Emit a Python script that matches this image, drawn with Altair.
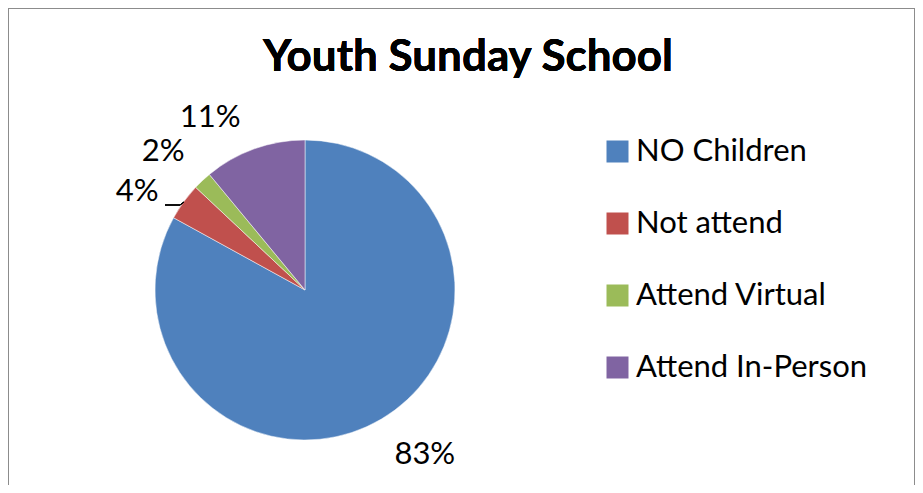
import altair as alt
import pandas as pd

categories = ["NO Children", "Not attend", "Attend Virtual", "Attend In-Person"]
values = [83, 4, 2, 11]
labels = ["83%", "4%", "2%", "11%"]
colors = ["#4F81BD", "#C0504D", "#9BBB59", "#8064A2"]

df = pd.DataFrame({"category": categories, "value": values, "label": labels,
                   "order": list(range(len(categories)))})

FONT = "Lato"
CX, CY, R = 297, 282, 150

base = alt.Chart(df).encode(
    theta=alt.Theta("value:Q", stack=True),
    order=alt.Order("order:Q"),
)

pie = base.mark_arc(outerRadius=R, stroke="white", strokeWidth=0.5).encode(
    x=alt.value(CX), y=alt.value(CY),
    color=alt.Color("category:N", sort=categories,
                    scale=alt.Scale(domain=categories, range=colors),
                    legend=alt.Legend(title=None, orient="none", legendX=594, legendY=128,
                                      symbolType="square", symbolSize=484,
                                      symbolStrokeWidth=0, labelFont=FONT,
                                      labelFontSize=31, labelColor="black",
                                      labelOffset=3, rowPadding=40, padding=0,
                                      labelLimit=400)),
)

offsets = {"NO Children": (18, -7), "Not attend": (-6, 20),
           "Attend Virtual": (-5, 8), "Attend In-Person": (-27, 16)}

text_layers = []
for cat in categories:
    dx, dy = offsets[cat]
    text_layers.append(
        base.mark_text(radius=200, font=FONT, fontSize=31, color="black",
                       align="center", baseline="middle", dx=dx, dy=dy).encode(
            x=alt.value(CX), y=alt.value(CY),
            text=alt.condition(f"datum.category == '{cat}'", "label:N", alt.value("")),
        )
    )

leader = alt.Chart(df).mark_rule(color="black", strokeWidth=1).encode(
    x=alt.value(157), x2=alt.value(172), y=alt.value(197), y2=alt.value(197)
)
leader2 = alt.Chart(df).mark_rule(color="black", strokeWidth=1).encode(
    x=alt.value(172), x2=alt.value(176), y=alt.value(197), y2=alt.value(194)
)

border = alt.Chart(df).mark_rule(color="#8c8c8c", strokeWidth=2).encode(
    x=alt.value(0), x2=alt.value(0), y=alt.value(0), y2=alt.value(477)
)
border_top = alt.Chart(df).mark_rule(color="#8c8c8c", strokeWidth=2).encode(
    x=alt.value(0), x2=alt.value(907), y=alt.value(0), y2=alt.value(0)
)
border_right = alt.Chart(df).mark_rule(color="#8c8c8c", strokeWidth=2).encode(
    x=alt.value(907), x2=alt.value(907), y=alt.value(0), y2=alt.value(477)
)

title = alt.Chart(df).mark_text(font=FONT, fontSize=44, fontWeight="bold", color="black",
                                align="center", baseline="alphabetic").encode(
    x=alt.value(460), y=alt.value(63), text=alt.value("Youth Sunday School")
)

chart = alt.layer(pie, *text_layers, leader, leader2, border, border_top, border_right, title).properties(
    width=907, height=477, autosize=alt.AutoSizeParams(type="none"), padding=0
).configure_view(stroke=None)

chart.save("out.html", embed_options={"renderer": "svg", "actions": False})
